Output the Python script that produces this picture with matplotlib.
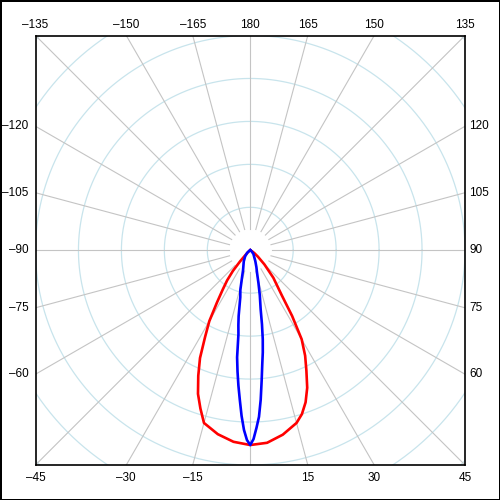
import numpy as np
import matplotlib
matplotlib.use("Agg")
import matplotlib.pyplot as plt

plt.rcParams["font.family"] = ["Liberation Sans", "DejaVu Sans"]

# polar intensity curves, angle in degrees from nadir (0 = down, +90 = right)
red_angle = [-60, -55, -50, -45, -42.5, -40, -37.5, -35, -32.5, -30,
             -27.5, -25, -22.5, -20, -17.5, -15, -10, -5, 0,
             5, 10, 15, 17.5, 20, 22.5, 25, 27.5, 30, 32.5, 35,
             40, 45, 50, 55, 60, 70]
red_value = [0, 1, 3, 7, 15, 27, 38, 48, 62, 82,
             98, 119, 136, 153, 166, 179, 187, 192.5, 195,
             193.5, 187.5, 179, 172, 162, 149, 133, 119, 103, 78, 55,
             36, 20, 10, 5, 2, 0]

blue_angle = [-70, -60, -50, -40, -30, -25, -20, -17, -14, -12,
              -10, -9, -8, -7, -6, -5, -4, -3, -2, -1,
              0, 1, 2, 3, 4, 5, 6, 7, 8, 9,
              10, 12, 14, 17, 20, 25, 30, 40, 50, 60]
blue_value = [0, 1, 4, 8, 13, 16, 21, 28, 41, 48,
              67, 76, 85, 108, 122, 136, 150, 166, 180, 190,
              195, 189, 178, 167, 150, 131, 115, 103, 90, 75,
              60, 46, 34, 23, 18, 12, 8, 5, 2, 0]

ring_step = 43
ring_count = 7
half = 215
spoke_angles = list(range(-165, 181, 15))


def to_xy(ang, val):
    a = np.radians(np.asarray(ang, dtype=float))
    v = np.asarray(val, dtype=float)
    return v * np.sin(a), -v * np.cos(a)


fig = plt.figure(figsize=(5, 5), dpi=100, linewidth=2, edgecolor="black")
ax = fig.add_axes([0.071, 0.07, 0.859, 0.859])
ax.set_xlim(-half, half)
ax.set_ylim(-half, half)
ax.set_xticks([])
ax.set_yticks([])
for s in ax.spines.values():
    s.set_linewidth(1.2)
    s.set_color("black")

# rings
t = np.linspace(0, 2 * np.pi, 400)
for k in range(1, ring_count + 1):
    r = k * ring_step
    ax.plot(r * np.cos(t), r * np.sin(t), color="#c8e4ec", lw=0.9, zorder=1)

# spokes and labels
fs = 8.5
for a in spoke_angles:
    rad = np.radians(a)
    dx, dy = np.sin(rad), -np.cos(rad)
    ax.plot([dx * ring_step / 2, dx * 400], [dy * ring_step / 2, dy * 400],
            color="#c4c4c4", lw=0.8, zorder=2)
    if a == 0:
        continue
    m = max(abs(dx), abs(dy))
    ex, ey = dx * half / m, dy * half / m
    txt = str(a).replace("-", "\u2013")
    if abs(dy) >= abs(dx) - 1e-9:
        if dy > 0:
            ax.annotate(txt, (ex, half), xytext=(0, 7.5), textcoords="offset points",
                        ha="center", va="center", fontsize=fs)
        else:
            ax.annotate(txt, (ex, -half), xytext=(0, -9.5), textcoords="offset points",
                        ha="center", va="center", fontsize=fs)
    elif dx < 0:
        ax.annotate(txt, (-half, ey), xytext=(-5, 0), textcoords="offset points",
                    ha="right", va="center", fontsize=fs)
    else:
        ax.annotate(txt, (half, ey), xytext=(3, 0), textcoords="offset points",
                    ha="left", va="center", fontsize=fs)

rx, ry = to_xy(red_angle, red_value)
ax.plot(rx, ry, color="#ff0000", lw=1.9, zorder=3)
bx, by = to_xy(blue_angle, blue_value)
ax.plot(bx, by, color="#0000ff", lw=1.9, zorder=4)

fig.savefig("out.png", dpi=100)
